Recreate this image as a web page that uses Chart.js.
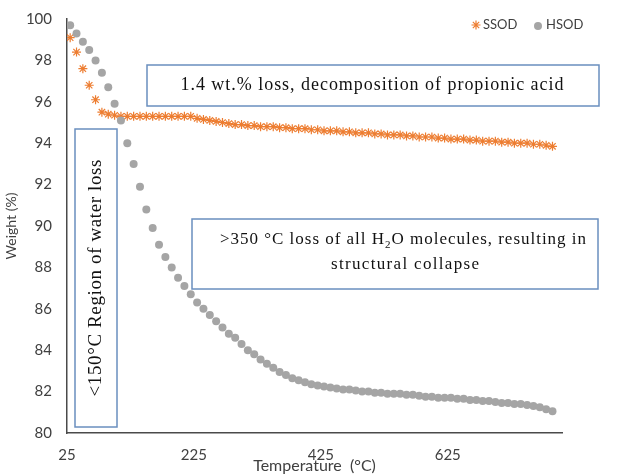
<!DOCTYPE html>
<html lang="en">
<head>
<meta charset="UTF-8">
<title>TGA SSOD / HSOD</title>
<script src="https://cdn.jsdelivr.net/npm/chart.js"></script>
<style>
  html, body { margin: 0; padding: 0; background: #fff; }
  #wrap { width: 632px; height: 474px; }
</style>
</head>
<body>
<div id="wrap"><canvas id="tga" width="632" height="474"></canvas></div>
<script>
// temperature (°C) of every sample
const temps = [
  30, 40, 50, 60, 70, 80, 90, 100, 110, 120,
  130, 140, 150, 160, 170, 180, 190, 200, 210, 220,
  230, 240, 250, 260, 270, 280, 290, 300, 310, 320,
  330, 340, 350, 360, 370, 380, 390, 400, 410, 420,
  430, 440, 450, 460, 470, 480, 490, 500, 510, 520,
  530, 540, 550, 560, 570, 580, 590, 600, 610, 620,
  630, 640, 650, 660, 670, 680, 690, 700, 710, 720,
  730, 740, 750, 760, 770, 780, 790
];
// weight (%)
const ssod = [
  99.1, 98.4, 97.6, 96.8, 96.1, 95.5, 95.4, 95.35, 95.3, 95.3,
  95.3, 95.3, 95.3, 95.3, 95.3, 95.3, 95.3, 95.3, 95.3, 95.3,
  95.2, 95.15, 95.1, 95.05, 95.0, 94.95, 94.9, 94.9, 94.85, 94.85,
  94.8, 94.8, 94.8, 94.75, 94.75, 94.7, 94.7, 94.7, 94.65, 94.65,
  94.6, 94.6, 94.6, 94.55, 94.55, 94.5, 94.5, 94.5, 94.45, 94.45,
  94.4, 94.4, 94.4, 94.35, 94.35, 94.3, 94.3, 94.3, 94.25, 94.25,
  94.2, 94.2, 94.2, 94.15, 94.15, 94.1, 94.1, 94.1, 94.05, 94.05,
  94.0, 94.0, 94.0, 93.95, 93.95, 93.9, 93.85
];
const hsod = [
  99.7, 99.3, 98.9, 98.5, 98.0, 97.4, 96.7, 95.9, 95.1, 94.0,
  93.0, 91.9, 90.8, 89.9, 89.1, 88.5, 88.0, 87.5, 87.1, 86.7,
  86.3, 86.0, 85.7, 85.4, 85.1, 84.8, 84.6, 84.3, 84.0, 83.8,
  83.55, 83.35, 83.15, 82.95, 82.8, 82.65, 82.55, 82.45, 82.35, 82.3,
  82.25, 82.2, 82.15, 82.1, 82.1, 82.05, 82.0, 82.0, 81.95, 81.95,
  81.9, 81.9, 81.9, 81.85, 81.85, 81.8, 81.75, 81.75, 81.7, 81.7,
  81.7, 81.65, 81.65, 81.6, 81.6, 81.55, 81.55, 81.5, 81.45, 81.45,
  81.4, 81.4, 81.35, 81.3, 81.25, 81.15, 81.05
];
const xTicks = [25, 225, 425, 625];
const seriesNames = ['SSOD', 'HSOD'];
const notes = [
  '1.4 wt.% loss, decomposition of propionic acid',
  '>350 °C loss of all H|2|O molecules, resulting in',
  'structural collapse',
  '<150°C Region of water loss'
];

const ORANGE = '#ED7D31';
const GREY = '#A5A5A5';
const AXIS = '#4a4a4a';
const BOX = '#6a8fbf';
const SERIF = '"Liberation Serif", "Times New Roman", serif';

// draws a line char by char, stretched to a width (Word textbox look)
// segment marked |2| is drawn as subscript
function spacedText(ctx, text, cx, cy, width, size) {
  const glyphs = [];
  text.split('|').forEach((part, i) => {
    const sub = i % 2 === 1;
    for (const ch of part) glyphs.push({ ch, sub });
  });
  let sum = 0;
  glyphs.forEach(g => {
    ctx.font = (g.sub ? Math.round(size * 0.65) : size) + 'px ' + SERIF;
    g.w = ctx.measureText(g.ch).width;
    sum += g.w;
  });
  const gap = (width - sum) / (glyphs.length - 1);
  let x = cx - width / 2;
  ctx.textBaseline = 'middle';
  ctx.textAlign = 'left';
  glyphs.forEach(g => {
    ctx.font = (g.sub ? Math.round(size * 0.65) : size) + 'px ' + SERIF;
    ctx.fillText(g.ch, x, g.sub ? cy + size * 0.3 : cy);
    x += g.w + gap;
  });
}

function box(ctx, x1, y1, x2, y2) {
  ctx.fillStyle = '#fff';
  ctx.fillRect(x1, y1, x2 - x1, y2 - y1);
  ctx.strokeStyle = BOX;
  ctx.lineWidth = 1.5;
  ctx.strokeRect(x1, y1, x2 - x1, y2 - y1);
}

const extras = {
  id: 'extras',
  afterDraw(chart) {
    const ctx = chart.ctx;
    ctx.save();

    // legend, top right
    ctx.strokeStyle = ORANGE;
    ctx.fillStyle = ORANGE;
    ctx.lineWidth = 1.2;
    Chart.helpers.drawPoint(ctx, { pointStyle: 'star', radius: 4.5, borderWidth: 1.2 }, 476, 25);
    ctx.fillStyle = GREY;
    ctx.strokeStyle = GREY;
    Chart.helpers.drawPoint(ctx, { pointStyle: 'circle', radius: 4, borderWidth: 0 }, 538, 26);
    ctx.fillStyle = '#404040';
    ctx.font = '13px Lato';
    ctx.textBaseline = 'middle';
    ctx.textAlign = 'left';
    ctx.fillText(seriesNames[0], 483, 25);
    ctx.fillText(seriesNames[1], 546, 25);

    // text boxes
    box(ctx, 147, 65, 599, 106);
    ctx.fillStyle = '#111';
    spacedText(ctx, notes[0], 372, 85, 383, 18);

    box(ctx, 192, 219, 598, 289);
    ctx.fillStyle = '#111';
    spacedText(ctx, notes[1], 403, 240, 366, 17);
    spacedText(ctx, notes[2], 405, 265, 148, 17);

    box(ctx, 75, 129, 117, 427);
    ctx.fillStyle = '#111';
    ctx.translate(96, 278);
    ctx.rotate(-Math.PI / 2);
    spacedText(ctx, notes[3], 0, 0, 237, 19);

    ctx.restore();
  }
};

new Chart(document.getElementById('tga'), {
  type: 'scatter',
  data: {
    datasets: [
      {
        label: seriesNames[0],
        data: temps.map((t, i) => ({ x: t, y: ssod[i] })),
        pointStyle: 'star',
        pointRadius: 4.5,
        borderColor: ORANGE,
        backgroundColor: ORANGE,
        borderWidth: 1.2,
        order: 1
      },
      {
        label: seriesNames[1],
        data: temps.map((t, i) => ({ x: t, y: hsod[i] })),
        pointStyle: 'circle',
        pointRadius: 4,
        borderWidth: 0,
        borderColor: GREY,
        backgroundColor: GREY,
        order: 0
      }
    ]
  },
  options: {
    responsive: false,
    animation: false,
    devicePixelRatio: 1,
    layout: { padding: { left: 0, right: 70, top: 19, bottom: 0 } },
    plugins: { legend: { display: false }, tooltip: { enabled: false } },
    scales: {
      x: {
        type: 'linear',
        min: 25,
        max: 805,
        afterBuildTicks: s => { s.ticks = xTicks.map(v => ({ value: v })); },
        afterFit: s => { s.height = 41; },
        grid: { display: false },
        border: { color: AXIS, width: 1.5 },
        ticks: { font: { family: 'Lato', size: 15 }, color: '#404040', padding: 5, maxRotation: 0, autoSkip: false },
        title: { display: true, text: 'Temperature  (°C)', font: { family: 'Lato', size: 16, lineHeight: 1 }, color: '#404040', padding: 0 }
      },
      y: {
        min: 80,
        max: 100,
        afterFit: s => { s.width = 67; },
        grid: { display: false },
        border: { color: AXIS, width: 1.5 },
        ticks: { stepSize: 2, font: { family: 'Lato', size: 15 }, color: '#404040', padding: 7 },
        title: { display: true, text: 'Weight (%)', font: { family: 'Lato', size: 14 }, color: '#404040', padding: { top: 3, bottom: 0 } }
      }
    }
  },
  plugins: [extras]
});
</script>
</body>
</html>
